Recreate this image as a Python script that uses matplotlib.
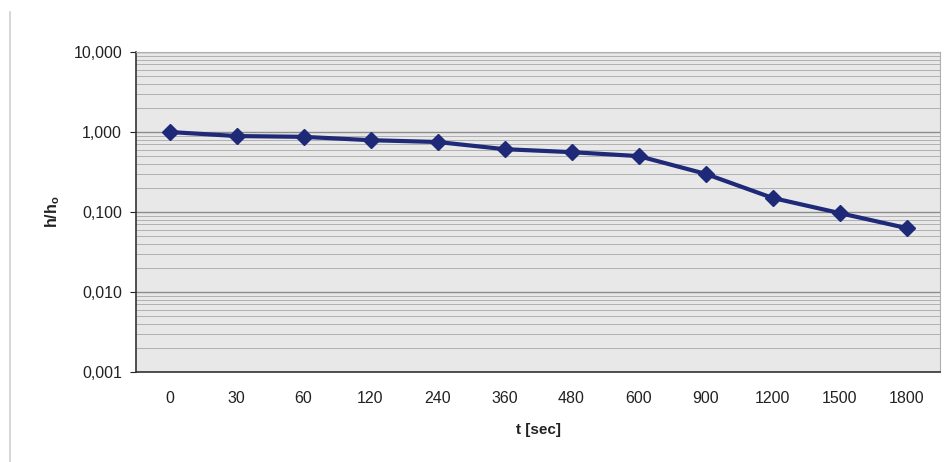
import matplotlib
matplotlib.use("Agg")
import matplotlib.pyplot as plt
from matplotlib.ticker import FixedLocator, FuncFormatter, LogLocator, NullFormatter
import numpy as np

categories = ["0", "30", "60", "120", "240", "360", "480", "600", "900", "1200", "1500", "1800"]
values = [1.0, 0.89, 0.87, 0.79, 0.75, 0.61, 0.56, 0.50, 0.30, 0.15, 0.097, 0.063]
ytick_vals = [0.001, 0.01, 0.1, 1, 10]
ytick_labels = ["0,001", "0,010", "0,100", "1,000", "10,000"]

plt.rcParams['font.family'] = ['Liberation Sans', 'DejaVu Sans']

fig = plt.figure(figsize=(9.5, 4.62), dpi=100)
ax = fig.add_axes([136/950, 1 - 372/462, (940-136)/950, (372-52)/462])

ax.set_facecolor('#e9e8e8')
x = np.arange(len(categories))
ax.plot(x, values, color='#1e2a78', lw=3, marker='D', ms=8, mfc='#1e2a78', mec='#1e2a78', zorder=5)

ax.set_yscale('log')
ax.set_ylim(0.001, 10)
ax.set_xlim(-0.5, len(categories) - 0.5)
ax.yaxis.set_major_locator(FixedLocator(ytick_vals))
ax.yaxis.set_major_formatter(FuncFormatter(lambda v, p: ytick_labels[ytick_vals.index(min(ytick_vals, key=lambda t: abs(np.log10(t) - np.log10(v))))]))
ax.yaxis.set_minor_locator(LogLocator(base=10, subs=np.arange(2, 10)))
ax.yaxis.set_minor_formatter(NullFormatter())
ax.grid(True, which='major', axis='y', color='#8c8c8c', lw=1.0)
ax.grid(True, which='minor', axis='y', color='#b0b0b0', lw=0.7)
ax.set_axisbelow(True)

ax.set_xticks(x)
ax.set_xticklabels(categories)
ax.tick_params(axis='x', length=0, pad=14, labelsize=11.5, colors='#222222')
ax.tick_params(axis='y', which='major', length=4, direction='out', labelsize=11.5, colors='#222222', pad=6)
ax.tick_params(axis='y', which='minor', length=0)

for s in ['left', 'bottom']:
    ax.spines[s].set_color('#333333')
    ax.spines[s].set_linewidth(1.2)
ax.spines['right'].set_color('#b0b0b0')
ax.spines['top'].set_color('#b0b0b0')

ax.set_xlabel('t [sec]', fontsize=11, fontweight='bold', labelpad=12, color='#222222')
ax.set_ylabel('h/h$_\\mathregular{o}$', fontsize=11.5, fontweight='bold', labelpad=8, color='#222222')

# faint chart-area border on the left
fig.add_artist(plt.Line2D([10/950, 10/950], [1 - 12/462, 0.0], color='#d0d0d0', lw=1.2))

fig.savefig('out.png', dpi=100)
